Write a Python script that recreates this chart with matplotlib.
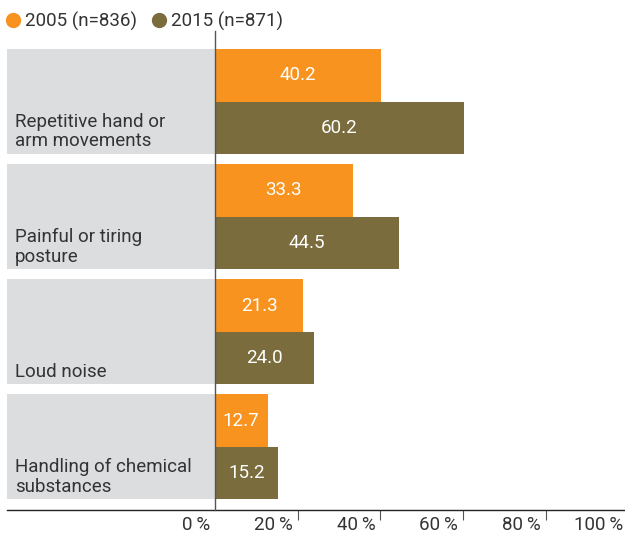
import matplotlib.pyplot as plt
from matplotlib.lines import Line2D
from matplotlib.transforms import offset_copy
import numpy as np

# Data
categories = ['Repetitive hand or\narm movements',
              'Painful or tiring\nposture',
              'Loud noise',
              'Handling of chemical\nsubstances']
vals_2005 = [40.2, 33.3, 21.3, 12.7]
vals_2015 = [60.2, 44.5, 24.0, 15.2]
series_names = ['2005 (n=836)', '2015 (n=871)']
tick_vals = [0, 20, 40, 60, 80, 100]
tick_labels = ['0\u2009%', '20\u2009%', '40\u2009%', '60\u2009%', '80\u2009%', '100\u2009%']

orange = '#F7931E'
olive = '#7A6C3D'
grey = '#DCDDDF'
txt = '#333333'

plt.rcParams['font.family'] = ['Roboto', 'DejaVu Sans']

fig = plt.figure(figsize=(6.25, 5.33), dpi=100)
W, H = 625, 533
# axes in pixel terms: x 7..625, y 49..509.5
ax = fig.add_axes([7 / W, (H - 509.5) / H, 618 / W, 460.5 / H])

xmin, xmax = -50.3, 99.15
ax.set_xlim(xmin, xmax)
ax.set_ylim(4, 0)

grp_h = 0.913
bar_h = grp_h / 2
idx = np.arange(len(categories))

# grey label boxes left of zero
ax.barh(idx, -xmin, left=xmin, height=grp_h, align='edge', color=grey, zorder=1)

# bars
ax.barh(idx, vals_2005, height=bar_h, align='edge', color=orange, zorder=2)
ax.barh(idx + bar_h, vals_2015, height=bar_h, align='edge', color=olive, zorder=2)

fs = 13.5
for i, (a, b) in enumerate(zip(vals_2005, vals_2015)):
    ax.text(a / 2, i + bar_h / 2, f'{a:.1f}', color='white', fontsize=fs,
            ha='center', va='center', zorder=3)
    ax.text(b / 2, i + bar_h * 1.5, f'{b:.1f}', color='white', fontsize=fs,
            ha='center', va='center', zorder=3)
    ax.annotate(categories[i], xy=(0, i + grp_h), xycoords=('axes fraction', 'data'),
                xytext=(5.8, 2.6), textcoords='offset points',
                ha='left', va='bottom', fontsize=fs, color=txt,
                linespacing=1.12, zorder=3)

# zero line running a bit below the axis
ax.plot([0, 0], [0, 1.04], transform=ax.get_xaxis_transform(), color='#555555',
        lw=1, clip_on=False, zorder=4)

# spines and ticks
for s in ['top', 'right', 'left']:
    ax.spines[s].set_visible(False)
ax.spines['bottom'].set_color('#222222')
ax.spines['bottom'].set_linewidth(1)
ax.set_yticks([])
ax.set_xticks([20, 40, 60, 80])
ax.tick_params(axis='x', direction='out', length=7, width=0.8, color='#555555',
               labelbottom=False)

trans = offset_copy(ax.get_xaxis_transform(), fig=fig, x=-3.6, y=-4.5, units='points')
for v, lab in zip(tick_vals, tick_labels):
    ax.text(v, 0, lab, transform=trans, ha='right', va='top', fontsize=fs,
            color=txt, clip_on=False)

# legend
handles = [Line2D([], [], marker='o', ls='', color=orange, markersize=10),
           Line2D([], [], marker='o', ls='', color=olive, markersize=10)]
fig.legend(handles, series_names, loc='upper left', bbox_to_anchor=(-0.024, 1.01),
           ncol=2, frameon=False, fontsize=fs, handletextpad=0.05,
           columnspacing=0.55, handlelength=1.2, labelcolor=txt)

fig.savefig('out.png', dpi=100)
